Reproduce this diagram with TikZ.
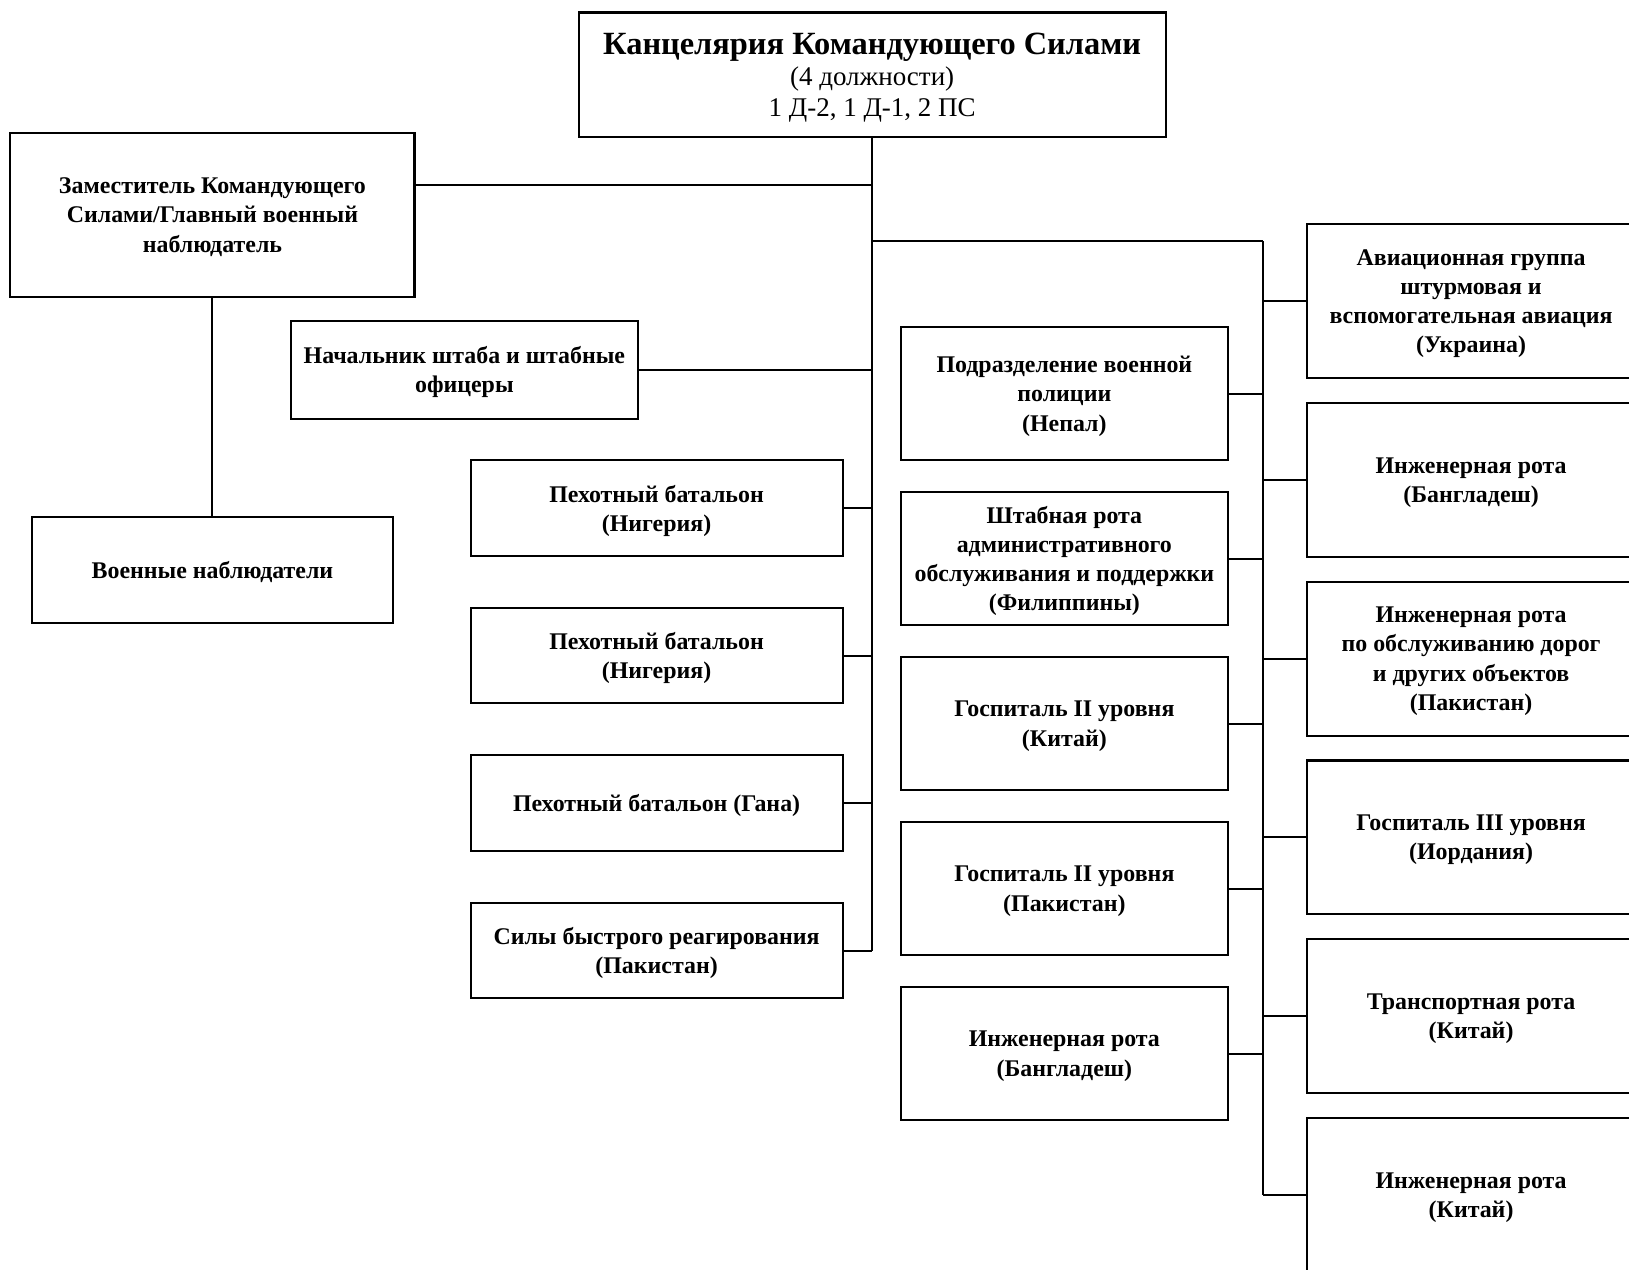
\documentclass[tikz,border=0pt]{standalone}
\usepackage{fontspec}
\setmainfont{Liberation Serif}
\usetikzlibrary{positioning}

\begin{document}
\begin{tikzpicture}[x=0.5pt,y=-0.5pt,-,line width=1pt,node distance=24pt,
                main node/.style={draw,line width=1pt,inner sep=0pt,align=center,text depth=-3.5pt,font=\bfseries\fontsize{11.5}{14}\selectfont},
                left node/.style={main node,minimum width=179pt,minimum height=46pt},
                mid node/.style={main node,minimum width=157.5pt,minimum height=64pt},
                right node/.style={main node,minimum width=158pt,minimum height=74pt}]
                \useasboundingbox (0,0) rectangle (1568,1222);
                \clip (0,0) rectangle (1568,1222);

                \node[main node,minimum width=282.5pt,minimum height=60pt] (1) at (839.5,72) {{\fontsize{15.6}{19}\selectfont Канцелярия Командующего Силами}\\[1pt] {\mdseries\fontsize{13}{15}\selectfont (4 должности)}\\[1pt] {\mdseries\fontsize{13}{15}\selectfont 1 Д-2, 1 Д-1, 2 ПС}};
                \node[main node,minimum width=194.5pt,minimum height=79pt] (2) at (204.5,207) {Заместитель Командующего\\ Силами/Главный военный\\ наблюдатель};
                \node[main node,minimum width=173.5pt,minimum height=51pt] (3) [below=105pt of 2] {Военные наблюдатели};
                \node[main node,minimum width=167pt,minimum height=47pt] (4) at (447,356) {Начальник штаба и штабные\\ офицеры};

                \node[left node] (5) at (632,489) {Пехотный батальон\\ (Нигерия)};
                \node[left node] (6) [below=of 5] {Пехотный батальон\\ (Нигерия)};
                \node[left node] (7) [below=of 6] {Пехотный батальон (Гана)};
                \node[left node] (8) [below=of 7] {Силы быстрого реагирования\\ (Пакистан)};

                \node[mid node] (9) at (1024.5,379) {Подразделение военной\\ полиции\\ (Непал)};
                \node[mid node] (10) [below=14.4pt of 9] {Штабная рота\\ административного\\ обслуживания и поддержки\\ (Филиппины)};
                \node[mid node] (11) [below=14.4pt of 10] {Госпиталь II уровня\\ (Китай)};
                \node[mid node] (12) [below=14.4pt of 11] {Госпиталь II уровня\\ (Пакистан)};
                \node[mid node] (13) [below=14.4pt of 12] {Инженерная рота\\ (Бангладеш)};

                \node[right node] (14) at (1416,290) {Авиационная группа\\ штурмовая и\\ вспомогательная авиация\\ (Украина)};
                \node[right node] (15) [below=11pt of 14] {Инженерная рота\\ (Бангладеш)};
                \node[right node] (16) [below=11pt of 15] {Инженерная рота\\ по обслуживанию дорог\\ и других объектов\\ (Пакистан)};
                \node[right node] (17) [below=11pt of 16] {Госпиталь III уровня\\ (Иордания)};
                \node[right node] (18) [below=11pt of 17] {Транспортная рота\\ (Китай)};
                \node[right node] (19) [below=11pt of 18] {Инженерная рота\\ (Китай)};

                \coordinate (r) at (1216,232);

                \path
                        (1.south) edge (1.south |- 8.east)
                        ([yshift=14.5pt]2.east) edge ([yshift=14.5pt]2.east -| 1.south)
                        (2.south) edge (3.north)
                        (4.east) edge (4.east -| 1.south)
                        (5.east) edge (5.east -| 1.south)
                        (6.east) edge (6.east -| 1.south)
                        (7.east) edge (7.east -| 1.south)
                        (8.east) edge (8.east -| 1.south)
                        (1.south |- r) edge (r)
                        (r) edge (r |- 19.west)
                        (9.east) edge (9.east -| r)
                        (10.east) edge (10.east -| r)
                        (11.east) edge (11.east -| r)
                        (12.east) edge (12.east -| r)
                        (13.east) edge (13.east -| r)
                        (14.west) edge (14.west -| r)
                        (15.west) edge (15.west -| r)
                        (16.west) edge (16.west -| r)
                        (17.west) edge (17.west -| r)
                        (18.west) edge (18.west -| r)
                        (19.west) edge (19.west -| r)
                    ;
\end{tikzpicture}
\end{document}
